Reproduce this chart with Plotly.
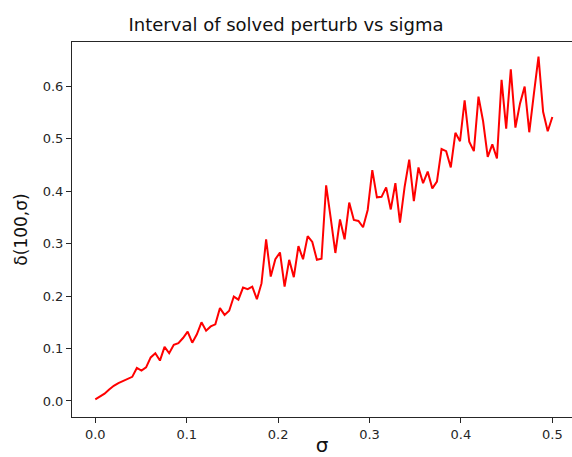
import numpy as np
import plotly.graph_objects as go

# sigma grid (100 evenly spaced points from 0 to 0.5)
sigma = np.linspace(0.0, 0.5, 100)

delta = [
    0.003, 0.009, 0.014, 0.022, 0.029, 0.034, 0.038, 0.042, 0.046, 0.063,
    0.058, 0.064, 0.083, 0.091, 0.077, 0.103, 0.091, 0.107, 0.110, 0.120,
    0.132, 0.111, 0.127, 0.150, 0.134, 0.142, 0.146, 0.177, 0.164, 0.172,
    0.199, 0.193, 0.216, 0.213, 0.218, 0.194, 0.224, 0.308, 0.237, 0.270,
    0.283, 0.218, 0.269, 0.236, 0.295, 0.270, 0.314, 0.303, 0.269, 0.271,
    0.411, 0.348, 0.282, 0.346, 0.308, 0.378, 0.345, 0.343, 0.331, 0.364,
    0.440, 0.388, 0.389, 0.407, 0.365, 0.415, 0.340, 0.408, 0.460, 0.381,
    0.445, 0.415, 0.437, 0.405, 0.418, 0.480, 0.476, 0.445, 0.511, 0.495,
    0.573, 0.494, 0.476, 0.580, 0.533, 0.465, 0.489, 0.462, 0.612, 0.519,
    0.632, 0.521, 0.567, 0.599, 0.512, 0.585, 0.656, 0.551, 0.514, 0.541,
]

x_ticks = [0.0, 0.1, 0.2, 0.3, 0.4, 0.5]
y_ticks = [0.0, 0.1, 0.2, 0.3, 0.4, 0.5, 0.6]

FONT = "DejaVu Sans"
INK = "#262626"

fig = go.Figure()
fig.add_trace(go.Scatter(
    x=sigma, y=delta, mode="lines",
    line=dict(color="#ff0000", width=2),
    hoverinfo="skip", showlegend=False,
))

fig.update_layout(
    width=572, height=457,
    margin=dict(l=72, r=0, t=42, b=40),
    paper_bgcolor="white", plot_bgcolor="white",
    font=dict(family=FONT, color=INK, size=13),
    title=dict(
        text="Interval of solved perturb vs sigma",
        font=dict(family=FONT, size=18, color="#111"),
        x=0.5, xanchor="center", y=0.945, yanchor="middle",
        xref="container",
    ),
)

fig.update_xaxes(
    range=[-0.0255, 0.5215],
    tickvals=x_ticks, ticktext=[f"{v:.1f}" for v in x_ticks],
    ticks="outside", ticklen=5, tickwidth=1, tickcolor=INK,
    showline=True, linecolor=INK, linewidth=1, mirror=True,
    showgrid=False, zeroline=False,
    title=dict(text="σ", font=dict(family=FONT, size=20, color="#111"), standoff=2),
    tickfont=dict(family=FONT, size=13, color=INK),
)
fig.update_yaxes(
    range=[-0.0305, 0.684],
    tickvals=y_ticks, ticktext=[f"{v:.1f}" for v in y_ticks],
    ticks="outside", ticklen=5, tickwidth=1, tickcolor=INK,
    showline=True, linecolor=INK, linewidth=1, mirror=False,
    showgrid=False, zeroline=False,
    title=dict(text="δ(100,σ)", font=dict(family=FONT, size=17, color="#111"), standoff=10),
    tickfont=dict(family=FONT, size=13, color=INK),
)

fig.write_html("out.html")
